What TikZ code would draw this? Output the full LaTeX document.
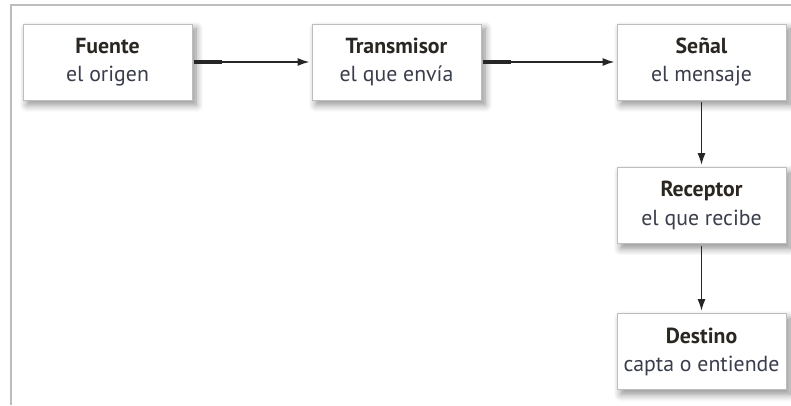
\documentclass[tikz,border=0pt]{standalone}
\usepackage{fontspec}
\setmainfont{PT Sans}
\usepackage{tikz}
\usetikzlibrary{shapes,arrows,arrows.meta,shadows.blur}

\definecolor{titlecol}{HTML}{2A2622}
\definecolor{subcol}{HTML}{3A3D4C}
\definecolor{framecol}{HTML}{BDBDBD}

\begin{document}
\begin{tikzpicture}[
  box/.style={draw=framecol, fill=white, minimum width=4.225cm, minimum height=1.9cm,
    align=center, font=\fontsize{15.5}{20}\selectfont, text=subcol,
    blur shadow={shadow xshift=0.1cm, shadow yshift=-0.12cm, shadow blur steps=8,
      shadow blur radius=0.18cm, shadow opacity=45}},
  link/.style={-{Latex[length=0.3cm, width=0.2cm]}, line width=1.4pt, black!85,
    shorten <=0.05cm, shorten >=0.05cm},
  stub/.style={line width=3.2pt, black!85}
]
\useasboundingbox (0, 0) rectangle (19.775, 10.125);
\draw [framecol, line width=0.9pt] (0.275, 0) -- (0.275, 10.0) -- (19.775, 10.0);

\node [box] (fuente) at (2.6875, 8.575) {\textbf{\color{titlecol}Fuente}\\el origen};
\node [box] (transmisor) at (9.9125, 8.575) {\textbf{\color{titlecol}Transmisor}\\el que envía};
\node [box] (senal) at (17.5375, 8.575) {\textbf{\color{titlecol}Señal}\\el mensaje};
\node [box] (receptor) at (17.5375, 4.9875) {\textbf{\color{titlecol}Receptor}\\el que recibe};
\node [box] (destino) at (17.5375, 1.3375) {\textbf{\color{titlecol}Destino}\\capta o entiende};

\draw [link] (fuente) -- (transmisor);
\draw [link] (transmisor) -- (senal);
\draw [link] (senal) -- (receptor);
\draw [link] (receptor) -- (destino);

\draw [stub] ([xshift=0.05cm]fuente.east) -- ++(0.7, 0);
\draw [stub] ([xshift=0.05cm]transmisor.east) -- ++(0.7, 0);

\end{tikzpicture}
\end{document}
